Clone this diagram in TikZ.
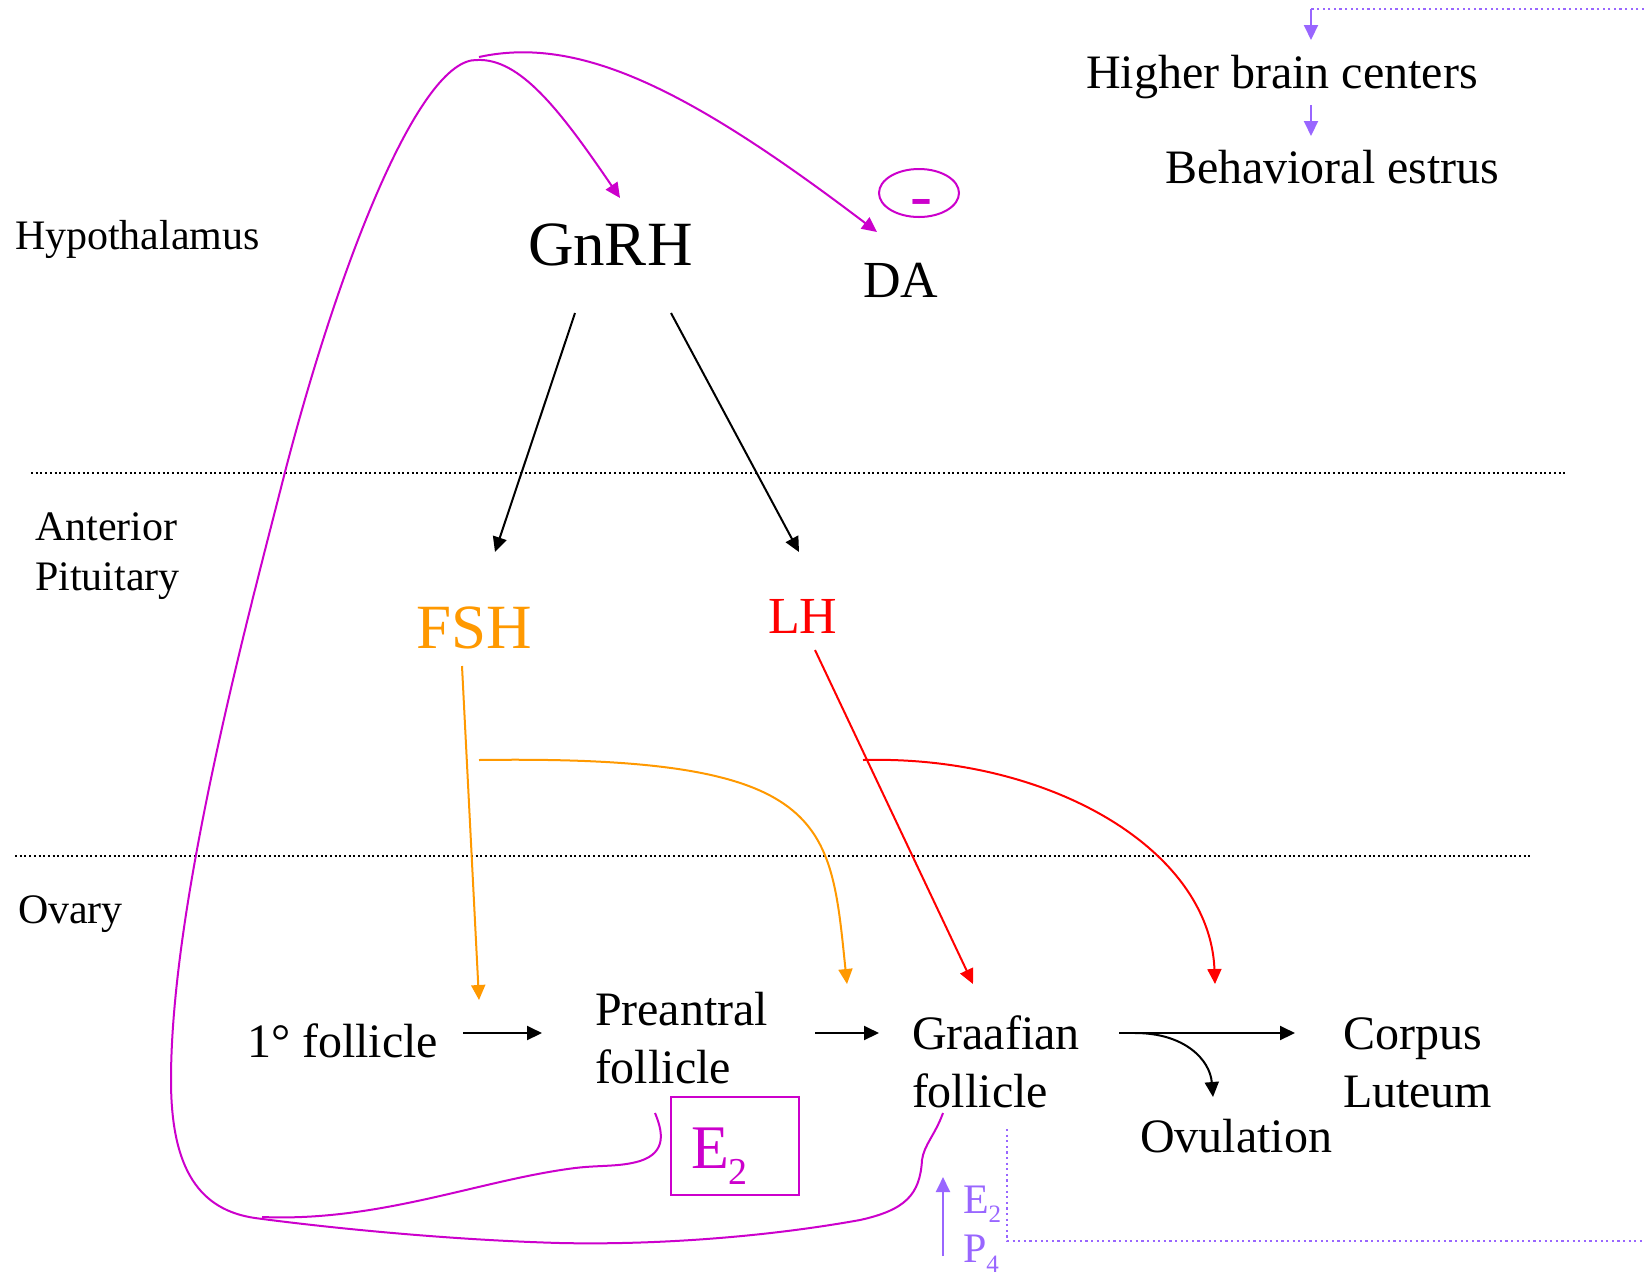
\documentclass[tikz,border=0pt]{standalone}
\usepackage{fontspec}
\setmainfont{Liberation Serif}
\usetikzlibrary{arrows.meta,shapes.geometric}
\definecolor{fbmag}{HTML}{CC00CC}
\definecolor{estpur}{HTML}{9966FF}
\definecolor{fshorg}{HTML}{FF9900}
\definecolor{lhred}{HTML}{FF0000}
\newcommand\fsz[1]{\fontsize{#1}{#1}\selectfont}
\newcommand\lowsub[3]{\raisebox{-#2pt}{\fontsize{#1}{#1}\selectfont #3}}
\begin{document}
\begin{tikzpicture}[x=1pt,y=-1pt,
  lbl/.style={anchor=base west, inner sep=0pt, outer sep=0pt},
  tipA/.style={-{Triangle[length=15pt,width=14pt]}},
  blkarr/.style={draw=black, line width=2pt, tipA},
  fsharr/.style={draw=fshorg, line width=2pt, tipA},
  lharr/.style={draw=lhred, line width=2pt, tipA},
  fbline/.style={draw=fbmag, line width=2pt},
  purarr/.style={draw=estpur, line width=2pt, tipA},
  purdot/.style={draw=estpur, line width=2pt, dash pattern=on 2.2pt off 3.4pt},
  sepline/.style={draw=black, line width=1.8pt, dash pattern=on 2pt off 2.7pt}]
\useasboundingbox (0,0) rectangle (1644,1278);
\fill[white] (0,0) rectangle (1644,1278);

% level separators
\draw[sepline] (31,473) -- (1565,473);
\draw[sepline] (15,856) -- (1533,856);

% level labels
\node (hyp)  [lbl, font=\fsz{42}] at (15,249) {Hypothalamus};
\node (ant1) [lbl, font=\fsz{42}] at (35,540) {Anterior};
\node (ant2) [lbl, font=\fsz{42}] at (35,590) {Pituitary};
\node (ova)  [lbl, font=\fsz{42}] at (18,923) {Ovary};

% hormones
\node (gnrh) [lbl, font=\fsz{63}] at (528,265) {GnRH};
\node (da)   [lbl, font=\fsz{52}] at (863,297) {DA};
\node (fsh)  [lbl, font=\fsz{63}, text=fshorg] at (416,648) {FSH};
\node (lh)   [lbl, font=\fsz{52}, text=lhred] at (768,633) {LH};
\node (neg)  [draw=fbmag, line width=2pt, ellipse, inner sep=0pt,
              minimum width=80pt, minimum height=48pt] at (919,193) {};
\node (minus) [anchor=base, inner sep=0pt, font=\fsz{66}, text=fbmag] at (921,217.5) {-};

% behaviour
\node (hbc)  [lbl, font=\fsz{48}] at (1086,88) {Higher brain centers};
\node (best) [lbl, font=\fsz{48}] at (1165,183) {Behavioral estrus};

% follicle development
\node (prim) [lbl, font=\fsz{48}] at (247,1057) {1° follicle};
\node (pre1) [lbl, font=\fsz{48}] at (595,1025) {Preantral};
\node (pre2) [lbl, font=\fsz{48}] at (595,1083) {follicle};
\node (gra1) [lbl, font=\fsz{48}] at (912,1049) {Graafian};
\node (gra2) [lbl, font=\fsz{48}] at (912,1107) {follicle};
\node (cl1)  [lbl, font=\fsz{48}] at (1343,1049) {Corpus};
\node (cl2)  [lbl, font=\fsz{48}] at (1343,1107) {Luteum};
\node (ovu)  [lbl, font=\fsz{48}] at (1140,1152) {Ovulation};

% estradiol box
\draw[fbline] (671,1097) rectangle (799,1195);
\node (e2box) [lbl, font=\fsz{62}, text=fbmag] at (691,1168) {E\lowsub{38}{16}{2}};

% steroid output
\node (e2s) [lbl, font=\fsz{42}, text=estpur] at (963,1213) {E\lowsub{25}{9}{2}};
\node (p4s) [lbl, font=\fsz{42}, text=estpur] at (963,1262) {P\lowsub{25}{10}{4}};

% connector end points
\coordinate (gnrhL) at (575,313);
\coordinate (gnrhR) at (671,313);
\coordinate (fshT)  at (495,552);
\coordinate (lhT)   at (799,552);
\coordinate (fshB)  at (462,666);
\coordinate (fshM)  at (479,760);
\coordinate (lhB)   at (815,650);
\coordinate (lhM)   at (863,760);
\coordinate (primT) at (479,1000);
\coordinate (preT)  at (847,984);
\coordinate (graT)  at (973,984);
\coordinate (ovuT)  at (1215,984);
\coordinate (primR) at (463,1033);
\coordinate (preL)  at (542,1033);
\coordinate (preR)  at (815,1033);
\coordinate (graL)  at (879,1033);
\coordinate (graR)  at (1119,1033);
\coordinate (graS)  at (1135,1033);
\coordinate (clL)   at (1295,1033);
\coordinate (ovuN)  at (1213,1097);
\coordinate (graH)  at (943,1113);
\coordinate (preH)  at (655,1113);
\coordinate (apex)  at (477,60);
\coordinate (apexB) at (479,57);
\coordinate (gnrhT) at (620,198);
\coordinate (daT)   at (877,232);
\coordinate (stB)   at (943,1256);
\coordinate (stT)   at (943,1177);
\coordinate (topR)  at (1644,9);
\coordinate (topC)  at (1311,9);
\coordinate (hbcT)  at (1311,40);
\coordinate (hbcB)  at (1311,105);
\coordinate (bestT) at (1311,136);
\coordinate (dotT)  at (1007,1129);
\coordinate (dotC)  at (1007,1241);
\coordinate (dotR)  at (1644,1241);

% GnRH drives the pituitary
\draw[blkarr] (gnrhL) -- (fshT);
\draw[blkarr] (gnrhR) -- (lhT);

% FSH and LH act on the ovary
\draw[fsharr] (fshB) -- (primT);
\draw[fsharr] (fshM) .. controls (830,755) and (830,820) .. (preT);
\draw[lharr] (lhB) -- (graT);
\draw[lharr] (lhM) .. controls (1050,755) and (1210,850) .. (ovuT);

% follicle sequence
\draw[blkarr] (primR) -- (preL);
\draw[blkarr] (preR) -- (graL);
\draw[blkarr] (graR) -- (clL);
\draw[blkarr] (graS) .. controls (1185,1033) and (1210,1060) .. (ovuN);

% estradiol feedback to the hypothalamus
\draw[fbline, tipA] (graH)
  .. controls (935,1135) and (924,1145) .. (922,1160)
  .. controls (920,1195) and (905,1210) .. (860,1220)
  .. controls (760,1238) and (650,1245) .. (560,1243)
  .. controls (450,1240) and (330,1228) .. (255,1218)
  .. controls (200,1210) and (171,1170) .. (171,1080)
  .. controls (171,900) and (250,610) .. (285,472)
  .. controls (340,260) and (420,58) .. (apex)
  .. controls (520,58) and (560,110) .. (gnrhT);
\draw[fbline] (preH)
  .. controls (662,1130) and (668,1152) .. (640,1161)
  .. controls (620,1167) and (600,1165) .. (575,1168)
  .. controls (480,1180) and (380,1222) .. (262,1217);
\draw[fbline, tipA] (apexB) .. controls (580,35) and (690,90) .. (daT);

% steroid route to behaviour
\draw[purarr] (stB) -- (stT);
\draw[purdot] (dotT) -- (dotC) -- (dotR);
\draw[purdot] (topR) -- (topC);
\draw[purarr] (topC) -- (hbcT);
\draw[purarr] (hbcB) -- (bestT);
\end{tikzpicture}
\end{document}
